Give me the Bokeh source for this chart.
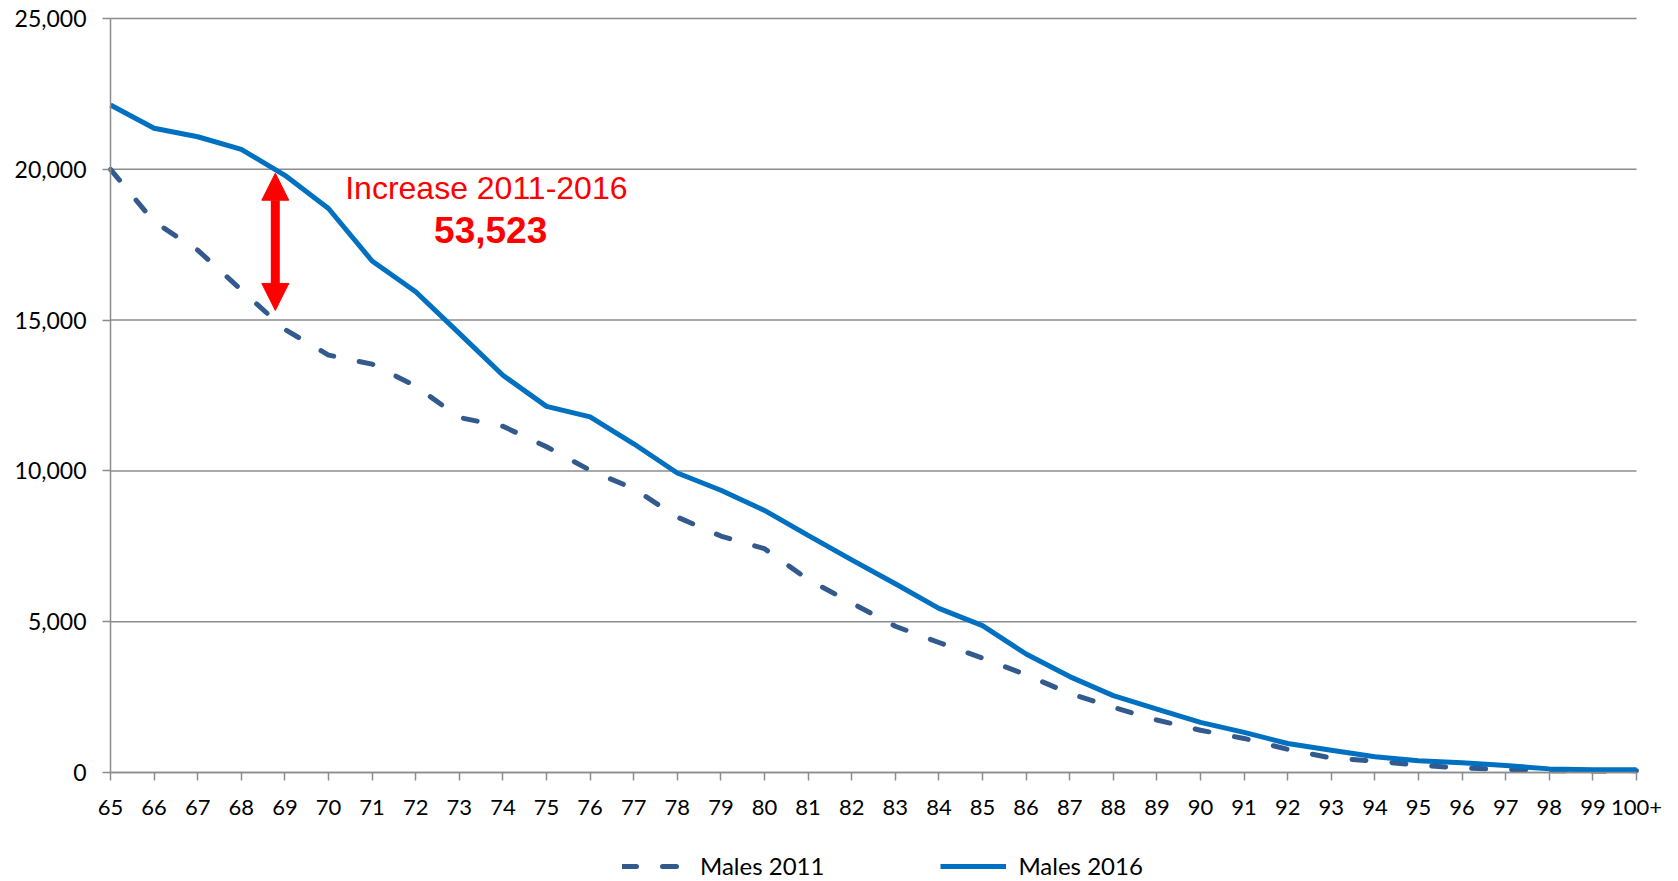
from bokeh.plotting import figure
from bokeh.models import (Range1d, FixedTicker, NumeralTickFormatter, Legend, LegendItem,
                          Label, Arrow, NormalHead, LinearAxis)
from bokeh.embed import file_html
from bokeh.resources import INLINE

# ---- data ----
categories = [str(a) for a in range(65, 100)] + ["100+"]
males_2011 = [20000, 18260, 17320, 16000, 14690, 13840, 13540, 12810, 11770, 11480,
              10800, 10020, 9410, 8470, 7840, 7420, 6400, 5620, 4850, 4310,
              3790, 3240, 2620, 2160, 1740, 1400, 1130, 770, 480, 380,
              240, 150, 100, 60, 50, 60]
males_2016 = [22130, 21360, 21080, 20660, 19800, 18700, 16960, 15940, 14560, 13170,
              12140, 11790, 10900, 9930, 9360, 8690, 7860, 7050, 6260, 5440,
              4870, 3930, 3180, 2550, 2100, 1660, 1330, 960, 740, 520,
              390, 320, 230, 120, 90, 90]
y_ticks = [0, 5000, 10000, 15000, 20000, 25000]
series_names = ["Males 2011", "Males 2016"]
annotation_title = "Increase 2011-2016"
annotation_value = "53,523"
arrow_category = 3.78
arrow_from, arrow_to = 15320, 19870

xs = list(range(len(categories)))

FONT = "Lato"
GRID = "#8c8c8c"

# ---- geometry (pixels): plot area 110..1636 x 18..772, frame padded around it so that
# the axes' labels and the legend sit inside the frame
PLOT_L, PLOT_R, PLOT_T, PLOT_B = 110, 1636, 18, 772
FR_L, FR_R, FR_T, FR_B = 10, 1670, 2, 880
X_LAST = len(categories) - 1
Y_MAX = y_ticks[-1]
px_x = (PLOT_R - PLOT_L) / X_LAST
px_y = (PLOT_B - PLOT_T) / Y_MAX
x_start = -(PLOT_L - FR_L) / px_x
x_end = X_LAST + (FR_R - PLOT_R) / px_x
y_start = -(FR_B - PLOT_B) / px_y
y_end = Y_MAX + (PLOT_T - FR_T) / px_y

p = figure(frame_width=FR_R - FR_L, frame_height=FR_B - FR_T,
           output_backend="svg", toolbar_location=None,
           x_range=Range1d(x_start, x_end), y_range=Range1d(y_start, y_end),
           x_axis_location=None, y_axis_location=None,
           min_border_left=FR_L, min_border_right=2, min_border_top=FR_T, min_border_bottom=0)
p.outline_line_color = None
p.background_fill_color = "white"
p.border_fill_color = "white"
p.xgrid.visible = False
p.ygrid.visible = False

# horizontal gridlines spanning the category range
p.segment(x0=[xs[0]] * len(y_ticks), x1=[xs[-1]] * len(y_ticks), y0=y_ticks, y1=y_ticks,
          line_color=GRID, line_width=1.5)

# x axis at y = 0
xa = LinearAxis(fixed_location=0)
xa.ticker = FixedTicker(ticks=xs)
xa.bounds = (xs[0], xs[-1])
xa.major_label_overrides = {i: c for i, c in enumerate(categories)}
xa.axis_line_color = GRID
xa.axis_line_width = 1.5
xa.major_tick_line_color = GRID
xa.major_tick_line_width = 1.5
xa.major_tick_out = 8
xa.major_tick_in = 0
xa.minor_tick_line_color = None
xa.major_label_text_font = FONT
xa.major_label_text_font_size = "22px"
xa.major_label_text_color = "black"
xa.major_label_standoff = 19
p.add_layout(xa, "below")

# y axis at the first category
ya = LinearAxis(fixed_location=xs[0])
ya.ticker = FixedTicker(ticks=y_ticks)
ya.bounds = (0, Y_MAX)
ya.formatter = NumeralTickFormatter(format="0,0")
ya.axis_line_color = GRID
ya.axis_line_width = 1.5
ya.major_tick_line_color = GRID
ya.major_tick_line_width = 1.5
ya.major_tick_out = 8
ya.major_tick_in = 0
ya.minor_tick_line_color = None
ya.major_label_text_font = FONT
ya.major_label_text_font_size = "23px"
ya.major_label_text_color = "black"
ya.major_label_standoff = 16
p.add_layout(ya, "left")

r1 = p.line(xs, males_2011, line_color="#325A8C", line_width=5, line_dash="14 26",
            line_cap="round", line_join="round")
r2 = p.line(xs, males_2016, line_color="#0070C0", line_width=5, line_join="round")

legend = Legend(items=[LegendItem(label=series_names[0], renderers=[r1]),
                       LegendItem(label=series_names[1], renderers=[r2])],
                orientation="horizontal", location=(622 - FR_L, 0),
                glyph_width=66, glyph_height=24, label_height=24, label_standoff=12,
                spacing=116, padding=0, margin=0, border_line_color=None,
                background_fill_alpha=0,
                label_text_font=FONT, label_text_font_size="24px", label_text_color="black")
p.add_layout(legend, "center")

p.add_layout(Arrow(x_start=arrow_category, y_start=arrow_from,
                   x_end=arrow_category, y_end=arrow_to,
                   line_color="#FF0000", line_width=9,
                   start=NormalHead(size=27, fill_color="#FF0000", line_color="#FF0000", line_width=1),
                   end=NormalHead(size=27, fill_color="#FF0000", line_color="#FF0000", line_width=1)))

p.add_layout(Label(x=8.62, y=19370, text=annotation_title, text_align="center",
                   text_baseline="middle", text_font="Liberation Sans",
                   text_font_size="32px", text_color="#FF0000"))
p.add_layout(Label(x=8.72, y=18000, text=annotation_value, text_align="center",
                   text_baseline="middle", text_font="Liberation Sans",
                   text_font_size="37px", text_font_style="bold", text_color="#FF0000"))

open("out.html", "w").write(file_html(p, INLINE))
